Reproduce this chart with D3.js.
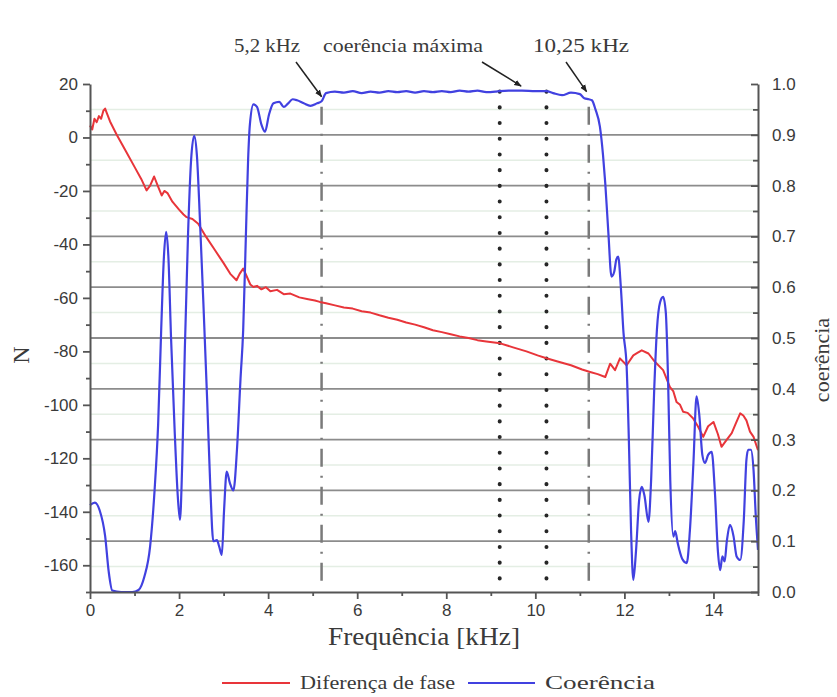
<!DOCTYPE html>
<html>
<head>
<meta charset="utf-8">
<script src="https://cdn.jsdelivr.net/npm/d3@7"></script>
<style>
  body { margin: 0; background: #fff; }
  svg text { fill: #3a3a3a; }
</style>
</head>
<body>
<svg id="chart" width="837" height="697"></svg>
<script>
// frequency axis, kHz
const freqTicks = [0, 2, 4, 6, 8, 10, 12, 14];
const nTicks = [20, 0, -20, -40, -60, -80, -100, -120, -140, -160];
const cohTicks = [0, 0.1, 0.2, 0.3, 0.4, 0.5, 0.6, 0.7, 0.8, 0.9, 1.0];

// phase difference (left axis, N)
const phaseFreq = [0, 0.05, 0.1, 0.15, 0.2, 0.25, 0.3, 0.34, 0.38, 0.45, 0.6, 0.8, 1.0, 1.15, 1.27, 1.35, 1.44, 1.52, 1.61, 1.67, 1.74, 1.85, 2.0, 2.1, 2.17, 2.3, 2.43, 2.6, 2.8, 3.0, 3.15, 3.29, 3.36, 3.44, 3.52, 3.6, 3.67, 3.75, 3.85, 3.95, 4.05, 4.2, 4.35, 4.5, 4.7, 4.9, 5.05, 5.16, 5.3, 5.5, 5.7, 5.9, 6.1, 6.3, 6.5, 6.7, 6.9, 7.1, 7.3, 7.5, 7.7, 7.9, 8.1, 8.3, 8.5, 8.7, 8.9, 9.21, 9.5, 9.8, 10.05, 10.25, 10.5, 10.8, 11.05, 11.23, 11.4, 11.57, 11.68, 11.79, 11.9, 12.05, 12.2, 12.3, 12.39, 12.54, 12.69, 12.87, 13.02, 13.1, 13.17, 13.25, 13.32, 13.42, 13.54, 13.65, 13.77, 13.88, 14.0, 14.1, 14.18, 14.3, 14.41, 14.5, 14.6, 14.67, 14.74, 14.82, 14.9, 15.0];
const phaseVal = [4.5, 3, 7, 5.7, 8, 7, 10, 10.8, 9, 6, 1, -5, -11, -15.5, -19.8, -18, -14.6, -18, -21.7, -20, -20.8, -24, -27, -28.8, -29.8, -30.5, -32.3, -37, -42, -47, -51, -53.4, -51, -49, -52, -55, -55.9, -55.5, -56.8, -56, -57.5, -57, -58.6, -58.4, -59.8, -60.5, -61, -61.5, -62, -62.8, -63.6, -64, -65, -65.5, -66.5, -67.4, -68.2, -69.2, -70, -71, -72.1, -72.8, -73.6, -74.4, -75, -75.8, -76.3, -77, -78.5, -80, -81.5, -82.6, -83.8, -85.2, -86.8, -87.7, -88.5, -89.6, -84.6, -87, -82.6, -85.2, -81.5, -80.5, -79.6, -80.8, -84, -87, -93.3, -95, -98.9, -100, -102.6, -103, -105, -108, -112, -108, -106.4, -111, -115.7, -113, -110.6, -107, -103.2, -104, -105.8, -110, -112, -117];

// coherence (right axis)
const cohFreq = [0, 0.11, 0.22, 0.34, 0.42, 0.5, 0.7, 0.95, 1.09, 1.22, 1.35, 1.45, 1.53, 1.6, 1.66, 1.71, 1.76, 1.82, 1.9, 1.97, 2.02, 2.07, 2.13, 2.2, 2.27, 2.34, 2.4, 2.47, 2.55, 2.63, 2.7, 2.77, 2.85, 2.9, 2.96, 3.01, 3.07, 3.14, 3.22, 3.3, 3.38, 3.44, 3.5, 3.55, 3.59, 3.67, 3.75, 3.85, 3.93, 4.02, 4.12, 4.25, 4.35, 4.45, 4.55, 4.65, 4.8, 4.95, 5.1, 5.2, 5.3, 5.5, 5.7, 5.9, 6.1, 6.3, 6.5, 6.7, 6.9, 7.1, 7.3, 7.5, 7.7, 7.9, 8.1, 8.3, 8.5, 8.7, 8.9, 9.1, 9.2, 9.4, 9.7, 10.0, 10.25, 10.4, 10.6, 10.8, 11.0, 11.1, 11.2, 11.27, 11.35, 11.45, 11.52, 11.57, 11.64, 11.71, 11.77, 11.82, 11.86, 11.92, 11.98, 12.05, 12.1, 12.15, 12.2, 12.26, 12.33, 12.39, 12.45, 12.54, 12.6, 12.67, 12.73, 12.8, 12.87, 12.93, 12.98, 13.03, 13.1, 13.14, 13.2, 13.3, 13.4, 13.47, 13.55, 13.62, 13.68, 13.75, 13.81, 13.88, 13.96, 14.03, 14.1, 14.15, 14.2, 14.25, 14.3, 14.37, 14.45, 14.52, 14.6, 14.68, 14.74, 14.78, 14.84, 14.9, 14.95, 15.0];
const cohVal = [0.171, 0.176, 0.16, 0.11, 0.04, 0.003, 0, 0, 0.004, 0.03, 0.09, 0.2, 0.33, 0.52, 0.66, 0.709, 0.66, 0.5, 0.32, 0.19, 0.142, 0.25, 0.48, 0.7, 0.85, 0.898, 0.86, 0.73, 0.56, 0.38, 0.21, 0.1, 0.102, 0.09, 0.073, 0.16, 0.237, 0.215, 0.2, 0.28, 0.42, 0.516, 0.7, 0.85, 0.92, 0.96, 0.955, 0.92, 0.906, 0.94, 0.962, 0.965, 0.955, 0.962, 0.97, 0.968, 0.962, 0.957, 0.962, 0.966, 0.982, 0.985, 0.983, 0.986, 0.982, 0.985, 0.983, 0.986, 0.984, 0.986, 0.983, 0.986, 0.984, 0.986, 0.984, 0.987, 0.985, 0.987, 0.984, 0.985, 0.986, 0.987, 0.987, 0.986, 0.986, 0.982, 0.978, 0.983, 0.98, 0.972, 0.97, 0.968, 0.95, 0.916, 0.86, 0.805, 0.707, 0.621, 0.63, 0.655, 0.66, 0.6, 0.51, 0.444, 0.3, 0.12, 0.024, 0.08, 0.18, 0.207, 0.19, 0.138, 0.22, 0.4, 0.516, 0.57, 0.581, 0.55, 0.42, 0.22, 0.109, 0.12, 0.095, 0.065, 0.057, 0.12, 0.254, 0.385, 0.35, 0.27, 0.254, 0.27, 0.276, 0.2, 0.08, 0.043, 0.07, 0.06, 0.1, 0.132, 0.11, 0.07, 0.063, 0.14, 0.26, 0.28, 0.28, 0.24, 0.15, 0.083];

// marker lines
const dashDotFreq = [5.2, 11.2];
const dottedFreq = [9.2, 10.25];
const notes = [
  { label: "5,2 kHz", cx: 267, width: 66, from: [296, 62], toF: 5.2, toC: 0.975 },
  { label: "coerência máxima", cx: 403, width: 160, from: [482, 62], toF: 9.68, toC: 0.996 },
  { label: "10,25 kHz", cx: 581, width: 96, from: [566, 62], toF: 11.15, toC: 0.985 },
];

const margin = { top: 84, right: 79, bottom: 105, left: 90 };
const width = 837, height = 697;
const plotW = width - margin.left - margin.right;
const plotH = height - margin.top - margin.bottom;

const svg = d3.select("#chart");
svg.append("rect").attr("width", width).attr("height", height).attr("fill", "#fff");

const x = d3.scaleLinear().domain([0, 15]).range([0, plotW]);
const yL = d3.scaleLinear().domain([-170, 20]).range([plotH, 0]);
const yR = d3.scaleLinear().domain([0, 1]).range([plotH, 0]);

const chart = svg.append("g").attr("transform", `translate(${margin.left},${margin.top})`);

// faint half-step grid, then the main grid from the coherence axis
chart.append("g")
  .selectAll("line")
  .data(d3.range(0.05, 1, 0.1))
  .join("line")
  .attr("x1", 0).attr("x2", plotW)
  .attr("y1", (d) => yR(d)).attr("y2", (d) => yR(d))
  .attr("stroke", "#e4eee4").attr("stroke-width", 1.5);

chart.append("g")
  .selectAll("line")
  .data(cohTicks.slice(1, -1))
  .join("line")
  .attr("x1", 0).attr("x2", plotW)
  .attr("y1", (d) => yR(d)).attr("y2", (d) => yR(d))
  .attr("stroke", "#8c8c8c").attr("stroke-width", 1.8);

// vertical markers
chart.append("g")
  .selectAll("line")
  .data(dashDotFreq)
  .join("line")
  .attr("x1", (d) => x(d)).attr("x2", (d) => x(d))
  .attr("y1", yR(0.955)).attr("y2", yR(0.012))
  .attr("stroke", "#7a7a7a").attr("stroke-width", 2.5)
  .attr("stroke-dasharray", "18,9,2,9");

chart.append("g")
  .selectAll("line")
  .data(dottedFreq)
  .join("line")
  .attr("x1", (d) => x(d)).attr("x2", (d) => x(d))
  .attr("y1", yR(0.985)).attr("y2", yR(0.012))
  .attr("stroke", "#262626").attr("stroke-width", 4)
  .attr("stroke-linecap", "round")
  .attr("stroke-dasharray", "0.1,15.6");

// curves
const phaseData = phaseFreq.map((f, i) => [f, phaseVal[i]]);
const cohData = cohFreq.map((f, i) => [f, cohVal[i]]);

chart.append("path")
  .datum(phaseData)
  .attr("fill", "none")
  .attr("stroke", "#e8353a")
  .attr("stroke-width", 2)
  .attr("stroke-linejoin", "round")
  .attr("d", d3.line().x((d) => x(d[0])).y((d) => yL(d[1])));

chart.append("path")
  .datum(cohData)
  .attr("fill", "none")
  .attr("stroke", "#4141e0")
  .attr("stroke-width", 2.2)
  .attr("d", d3.line().curve(d3.curveMonotoneX).x((d) => x(d[0])).y((d) => yR(d[1])));

// axes
const axisColor = "#555";
const tickFont = "'Liberation Sans', Arial, sans-serif";
const serif = "'Liberation Serif', 'Times New Roman', serif";

function styleAxis(g) {
  g.select(".domain").attr("stroke", axisColor).attr("stroke-width", 2);
  g.selectAll(".tick line").attr("stroke", axisColor).attr("stroke-width", 1.8);
  g.selectAll(".tick text")
    .attr("font-family", tickFont)
    .attr("font-size", 17)
    .attr("fill", "#505050");
}

chart.append("g")
  .call(d3.axisLeft(yL).tickValues(nTicks).tickSize(7).tickSizeOuter(0).tickPadding(5).tickFormat((d) => String(d)))
  .call(styleAxis);
chart.append("g")
  .call(d3.axisLeft(yL).tickValues(d3.range(-170, 20, 20)).tickSize(4).tickSizeOuter(0).tickFormat(""))
  .call((g) => g.select(".domain").remove())
  .call(styleAxis);

chart.append("g")
  .attr("transform", `translate(${plotW},0)`)
  .call(d3.axisRight(yR).tickValues(cohTicks).tickSize(-7).tickSizeOuter(0).tickPadding(14).tickFormat(d3.format(".1f")))
  .call(styleAxis);
chart.append("g")
  .attr("transform", `translate(${plotW},0)`)
  .call(d3.axisRight(yR).tickValues(d3.range(0.05, 1, 0.1)).tickSize(-5).tickSizeOuter(0).tickFormat(""))
  .call((g) => g.select(".domain").remove())
  .call(styleAxis);

chart.append("g")
  .attr("transform", `translate(0,${plotH})`)
  .call(d3.axisBottom(x).tickValues(freqTicks).tickSize(7).tickSizeOuter(0).tickPadding(5))
  .call(styleAxis);
chart.append("g")
  .attr("transform", `translate(0,${plotH})`)
  .call(d3.axisBottom(x).tickValues(d3.range(1, 16, 2)).tickSize(4).tickSizeOuter(0).tickFormat(""))
  .call((g) => g.select(".domain").remove())
  .call(styleAxis);

// titles
svg.append("text")
  .attr("x", margin.left + plotW / 2).attr("y", 645)
  .attr("text-anchor", "middle")
  .attr("font-family", serif).attr("font-size", 25)
  .attr("textLength", 192).attr("lengthAdjust", "spacingAndGlyphs")
  .text("Frequência [kHz]");

svg.append("text")
  .attr("transform", "translate(29,355) rotate(-90)")
  .attr("text-anchor", "middle")
  .attr("font-family", serif).attr("font-size", 24)
  .text("N");

svg.append("text")
  .attr("transform", "translate(829,360) rotate(-90)")
  .attr("text-anchor", "middle")
  .attr("font-family", serif).attr("font-size", 22)
  .text("coerência");

// annotations with arrows
svg.append("defs").append("marker")
  .attr("id", "arrow")
  .attr("viewBox", "0 0 10 10")
  .attr("refX", 9).attr("refY", 5)
  .attr("markerWidth", 5).attr("markerHeight", 5)
  .attr("orient", "auto")
  .append("path").attr("d", "M0,1 L10,5 L0,9 Z").attr("fill", "#222");

const noteG = svg.append("g");
noteG.selectAll("text")
  .data(notes)
  .join("text")
  .attr("x", (d) => d.cx).attr("y", 52)
  .attr("text-anchor", "middle")
  .attr("font-family", serif).attr("font-size", 19)
  .attr("fill", "#333")
  .attr("textLength", (d) => d.width).attr("lengthAdjust", "spacingAndGlyphs")
  .text((d) => d.label);
noteG.selectAll("line")
  .data(notes)
  .join("line")
  .attr("x1", (d) => d.from[0]).attr("y1", (d) => d.from[1])
  .attr("x2", (d) => margin.left + x(d.toF)).attr("y2", (d) => margin.top + yR(d.toC))
  .attr("stroke", "#222").attr("stroke-width", 1.5)
  .attr("marker-end", "url(#arrow)");

// legend
const legendItems = [
  { label: "Diferença de fase", color: "#e8353a", x0: 222, x1: 290, tx: 300, tw: 155 },
  { label: "Coerência", color: "#4141e0", x0: 468, x1: 535, tx: 545, tw: 110 },
];
const legend = svg.append("g").attr("transform", "translate(0,683)");
legend.selectAll("line")
  .data(legendItems)
  .join("line")
  .attr("x1", (d) => d.x0).attr("x2", (d) => d.x1)
  .attr("y1", 0).attr("y2", 0)
  .attr("stroke", (d) => d.color).attr("stroke-width", 2);
legend.selectAll("text")
  .data(legendItems)
  .join("text")
  .attr("x", (d) => d.tx).attr("y", 6)
  .attr("font-family", serif).attr("font-size", 19)
  .attr("textLength", (d) => d.tw).attr("lengthAdjust", "spacingAndGlyphs")
  .text((d) => d.label);
</script>
</body>
</html>
